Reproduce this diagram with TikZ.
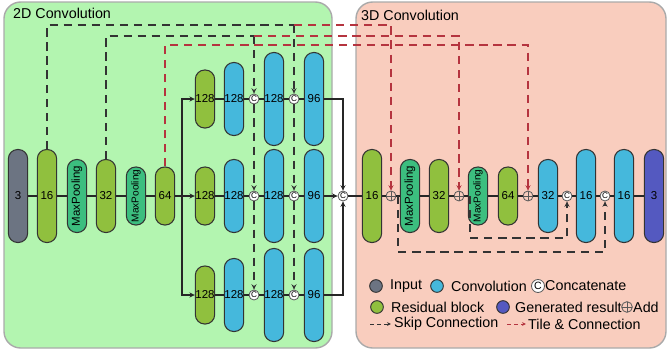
\documentclass[tikz,border=0pt]{standalone}
\usepackage{fontspec}
\setmainfont{Liberation Sans}
\usepackage{xcolor}
\usetikzlibrary{positioning}
\usetikzlibrary{arrows.meta}

\definecolor{bgtwo}{HTML}{B3F5B0}
\definecolor{bgthree}{HTML}{F9CDBE}
\definecolor{panelgray}{HTML}{AAAAAA}
\definecolor{resgreen}{HTML}{90C03E}
\definecolor{poolgreen}{HTML}{3CBE7F}
\definecolor{convblue}{HTML}{45B8DC}
\definecolor{inputgray}{HTML}{6C7482}
\definecolor{outpurple}{HTML}{5459C0}
\definecolor{tilered}{HTML}{B5343F}

\begin{document}
\begin{tikzpicture}[x=0.03cm,y=-0.03cm,
			pill/.style={draw=black!80, line width=0.9pt, rounded corners=0.28cm, minimum width=0.58cm, inner sep=0pt, font=\fontsize{9.8}{10}\selectfont},
			resblk/.style={pill, fill=resgreen},
			convblk/.style={pill, fill=convblue},
			poolblk/.style={pill, fill=poolgreen},
			htall/.style={minimum height=2.79cm},
			hmid/.style={minimum height=2.19cm},
			hlow/.style={minimum height=1.74cm},
			catnode/.style={circle, draw=black!65, fill=white, line width=0.7pt, minimum size=0.3cm, inner sep=0pt, font=\fontsize{7}{7}\selectfont},
			addnode/.style={circle, draw=black!65, line width=0.7pt, minimum size=0.3cm, inner sep=0pt,
				path picture={\draw[black!65, line width=0.6pt] (path picture bounding box.north) -- (path picture bounding box.south) (path picture bounding box.west) -- (path picture bounding box.east);}},
			conn/.style={draw=black!85, line width=1.1pt},
			skipline/.style={draw=black!80, line width=1pt, dash pattern=on 7pt off 5pt},
			tileline/.style={skipline, draw=tilered},
			arr/.style={-{Stealth[length=1.6mm,width=1.5mm]}},
			legtext/.style={anchor=west, inner sep=0pt, font=\fontsize{12.2}{13}\selectfont},
			legdot/.style={circle, draw=black!80, line width=0.8pt, minimum size=0.38cm, inner sep=0pt}]
		\useasboundingbox (0,0) rectangle (668,356);
		\draw[fill=bgtwo, draw=panelgray, line width=1.2pt, rounded corners=0.5cm] (4,2) rectangle (332,348);
		\draw[fill=bgthree, draw=panelgray, line width=1.2pt, rounded corners=0.5cm] (356,2) rectangle (666,348);
		\node[legtext] (title2d) at (13,13) {2D Convolution};
		\node[legtext] (title3d) at (361,15) {3D Convolution};

		\node[pill, fill=inputgray, htall] (in3) at (18,196) {3};
		\node[resblk, htall] (r16) at (47,196) {16};
		\node[poolblk, hmid] (mp1) at (77,196) {\rotatebox{90}{MaxPooling}};
		\node[resblk, hmid] (r32) at (106,196) {32};
		\node[poolblk, hlow, font=\fontsize{8.6}{9}\selectfont] (mp2) at (136,196) {\rotatebox{90}{MaxPooling}};
		\node[resblk, hlow] (r64) at (165,196) {64};
		\coordinate (br) at (182,196);

		\foreach \b/\y in {A/99, B/196, C/295} {
			\node[resblk, hlow] (g\b) at (205,\y) {128};
			\node[convblk, hmid] (b\b1) at (234,\y) {128};
			\node[catnode] (c\b1) at (254,\y) {C};
			\node[convblk, htall] (b\b2) at (274,\y) {128};
			\node[catnode] (c\b2) at (294,\y) {C};
			\node[convblk, htall] (b\b3) at (314,\y) {96};
			\draw[conn] (g\b) -- (b\b1) -- (c\b1) -- (b\b2) -- (c\b2) -- (b\b3);
		}
		\node[catnode] (cat) at (343,196) {C};

		\node[resblk, htall] (d16) at (372,196) {16};
		\node[addnode] (add1) at (391,196) {};
		\node[poolblk, hmid] (dmp1) at (410,196) {\rotatebox{90}{MaxPooling}};
		\node[resblk, hmid] (d32) at (439,196) {32};
		\node[addnode] (add2) at (459,196) {};
		\node[poolblk, hlow, font=\fontsize{8.6}{9}\selectfont] (dmp2) at (478,196) {\rotatebox{90}{MaxPooling}};
		\node[resblk, hlow] (d64) at (508,196) {64};
		\node[addnode] (add3) at (528,196) {};
		\node[convblk, hmid] (u32) at (548,196) {32};
		\node[catnode] (cc1) at (567,196) {C};
		\node[convblk, htall] (u16a) at (586,196) {16};
		\node[catnode] (cc2) at (605,196) {C};
		\node[convblk, htall] (u16b) at (624,196) {16};
		\node[pill, fill=outpurple, htall] (out3) at (654,196) {3};

		\draw[conn] (in3) -- (r16) -- (mp1) -- (r32) -- (mp2) -- (r64) -- (br);
		\draw[conn, arr] (br) |- (gA);
		\draw[conn, arr] (br) -- (gB);
		\draw[conn, arr] (br) |- (gC);
		\draw[conn, arr] (bA3) -| (cat);
		\draw[conn, arr] (bB3) -- (cat);
		\draw[conn, arr] (bC3) -| (cat);
		\draw[conn] (cat) -- (d16) -- (add1) -- (dmp1) -- (d32) -- (add2) -- (dmp2) -- (d64) -- (add3) -- (u32) -- (cc1) -- (u16a) -- (cc2) -- (u16b) -- (out3);

		\coordinate (t16) at (294,25);
		\coordinate (t32) at (254,36);
		\coordinate (t64) at (528,45);
		\draw[skipline] (r16.north) |- (t16);
		\draw[skipline, arr] (t16) -- (cA2);
		\draw[skipline, arr] (cA2) -- (cB2);
		\draw[skipline, arr] (cB2) -- (cC2);
		\draw[skipline] (r32.north) |- (t32);
		\draw[skipline, arr] (t32) -- (cA1);
		\draw[skipline, arr] (cA1) -- (cB1);
		\draw[skipline, arr] (cB1) -- (cC1);
		\draw[tileline, arr] (t16) -| (add1);
		\draw[tileline, arr] (t32) -| (add2);
		\draw[tileline, arr] (r64.north) |- (t64) -- (add3);

		\coordinate (s1) at (398,196);
		\coordinate (s1b) at (398,252);
		\coordinate (s2) at (470,196);
		\coordinate (s2b) at (470,238);
		\draw[skipline, arr] (s1) -- (s1b) -| (cc2);
		\draw[skipline, arr] (s2) -- (s2b) -| (cc1);

		\node[legdot, fill=inputgray] (kin) at (376,286) {};
		\node[legtext] (kintext) at (390,286) {Input};
		\node[legdot, fill=convblue] (kconv) at (437,286) {};
		\node[legtext] (kconvtext) at (451,286) {Convolution};
		\node[catnode, minimum size=0.39cm, font=\fontsize{9}{9}\selectfont] (kcat) at (538,286) {C};
		\node[legtext] (kcattext) at (545,286) {Concatenate};
		\node[legdot, fill=resgreen] (kres) at (377,307) {};
		\node[legtext] (krestext) at (391,307) {Residual block};
		\node[legdot, fill=outpurple] (kout) at (503,307) {};
		\node[legtext] (kouttext) at (515,307) {Generated result};
		\node[addnode, minimum size=0.32cm] (kadd) at (627,307) {};
		\node[legtext] (kaddtext) at (633,307) {Add};
		\coordinate (ks1) at (370,324);
		\coordinate (ks2) at (391,324);
		\coordinate (kt1) at (507,324);
		\coordinate (kt2) at (526,324);
		\draw[skipline, dash pattern=on 3pt off 3pt, line width=0.8pt, -{Stealth[length=1.2mm,width=1.1mm]}] (ks1) -- (ks2);
		\node[legtext] (kskiptext) at (394,324) {Skip Connection};
		\draw[tileline, dash pattern=on 3pt off 3pt, line width=0.8pt, -{Stealth[length=1.2mm,width=1.1mm]}] (kt1) -- (kt2);
		\node[legtext] (ktiletext) at (528,324) {Tile \& Connection};
\end{tikzpicture}
\end{document}
